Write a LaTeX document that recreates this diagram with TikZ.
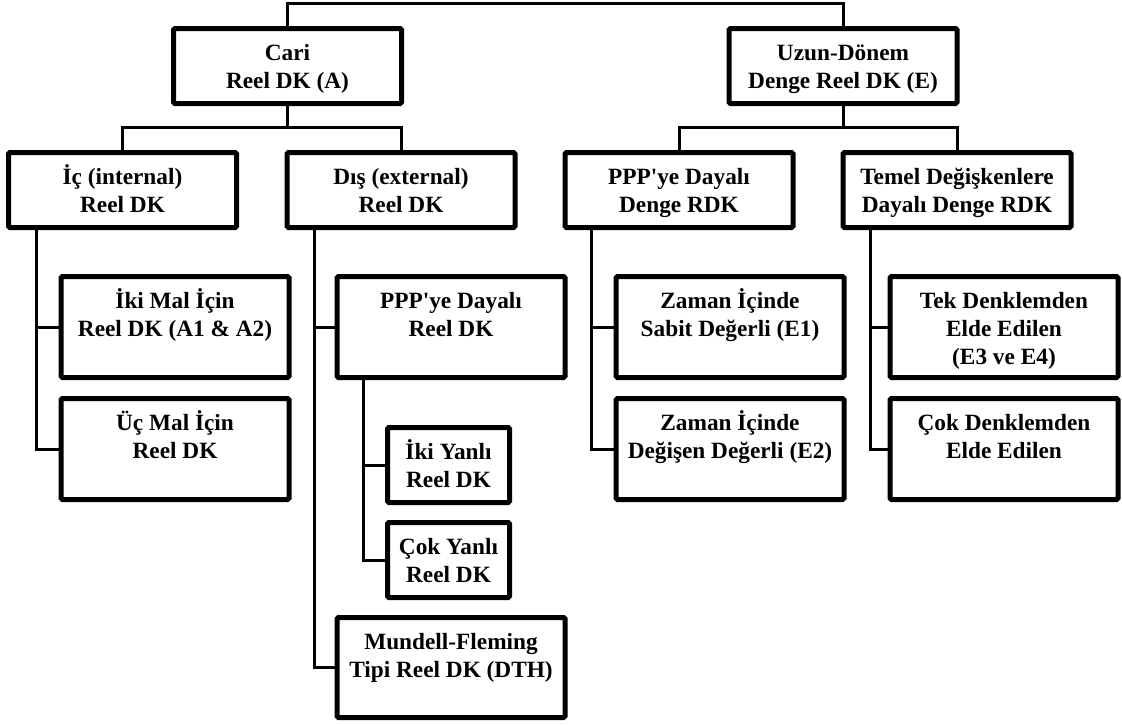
\documentclass[tikz,border=0pt]{standalone}
\usepackage{fontspec}
\setmainfont{Liberation Serif}
\newcommand\bxt[3]{\parbox[c][#2pt][t]{#1pt}{\centering\rule{0pt}{31.5pt}#3}}
\begin{document}
\begin{tikzpicture}[x=1pt,y=-1pt,
  box/.style={draw, line width=5pt, inner sep=0pt, outer sep=0pt, rounded corners=1.5pt},
  conn/.style={line width=3pt},
  font=\fontsize{23.3}{28}\selectfont\bfseries]
\useasboundingbox (0,0) rectangle (1122,724);
% level 1
\node[box] (cari) at (287.5,66) {\bxt{228}{75}{Cari\\Reel DK (A)}};
\node[box] (uzun) at (843,66) {\bxt{228}{75}{Uzun-Dönem\\Denge Reel DK (E)}};
% level 2
\node[box] (ic) at (122.5,190) {\bxt{228}{75}{İç (internal)\\Reel DK}};
\node[box] (dis) at (401,190) {\bxt{228}{75}{Dış (external)\\Reel DK}};
\node[box] (pppd) at (679,190) {\bxt{228}{75}{PPP\textquotesingle ye Dayalı\\Denge RDK}};
\node[box] (temel) at (957,190) {\bxt{228}{75}{Temel Değişkenlere\\Dayalı Denge RDK}};
% level 3
\node[box] (ikimal) at (175,327) {\bxt{228}{101}{İki Mal İçin\\Reel DK (A1 \& A2)}};
\node[box] (ucmal) at (175,449) {\bxt{228}{101}{Üç Mal İçin\\Reel DK}};
\node[box] (pppr) at (451,327) {\bxt{228}{101}{PPP\textquotesingle ye Dayalı\\Reel DK}};
\node[box] (ikiy) at (448.5,465) {\bxt{122}{75}{İki Yanlı\\Reel DK}};
\node[box] (coky) at (448.5,560) {\bxt{122}{75}{Çok Yanlı\\Reel DK}};
\node[box] (mundell) at (451,667.5) {\bxt{228}{100}{Mundell-Fleming\\Tipi Reel DK (DTH)}};
\node[box] (zaman1) at (730,327) {\bxt{228}{101}{Zaman İçinde\\Sabit Değerli (E1)}};
\node[box] (zaman2) at (730,449) {\bxt{228}{101}{Zaman İçinde\\Değişen Değerli (E2)}};
\node[box] (tek) at (1004,327) {\bxt{228}{101}{Tek Denklemden\\Elde Edilen\\(E3 ve E4)}};
\node[box] (cokd) at (1004,449) {\bxt{228}{101}{Çok Denklemden\\Elde Edilen}};
% connectors
\draw[conn] (cari.north) -- (cari.north |- 0,3) -| (uzun.north);
\draw[conn] (cari.south) -- ++(0,24) -| (ic.north);
\draw[conn] (cari.south) -- ++(0,24) -| (dis.north);
\draw[conn] (uzun.south) -- ++(0,24) -| (pppd.north);
\draw[conn] (uzun.south) -- ++(0,24) -| (temel.north);
\coordinate (ict) at ([xshift=27.5pt]ic.south west);
\coordinate (dist) at ([xshift=27.5pt]dis.south west);
\coordinate (pppt) at ([xshift=26pt]pppr.south west);
\coordinate (pppdt) at ([xshift=26pt]pppd.south west);
\coordinate (temt) at ([xshift=27pt]temel.south west);
\draw[conn] (ict) |- (ikimal.west);
\draw[conn] (ict) |- (ucmal.west);
\draw[conn] (dist) |- (pppr.west);
\draw[conn] (dist) |- (mundell.west);
\draw[conn] (pppt) |- (ikiy.west);
\draw[conn] (pppt) |- (coky.west);
\draw[conn] (pppdt) |- (zaman1.west);
\draw[conn] (pppdt) |- (zaman2.west);
\draw[conn] (temt) |- (tek.west);
\draw[conn] (temt) |- (cokd.west);
\end{tikzpicture}
\end{document}
